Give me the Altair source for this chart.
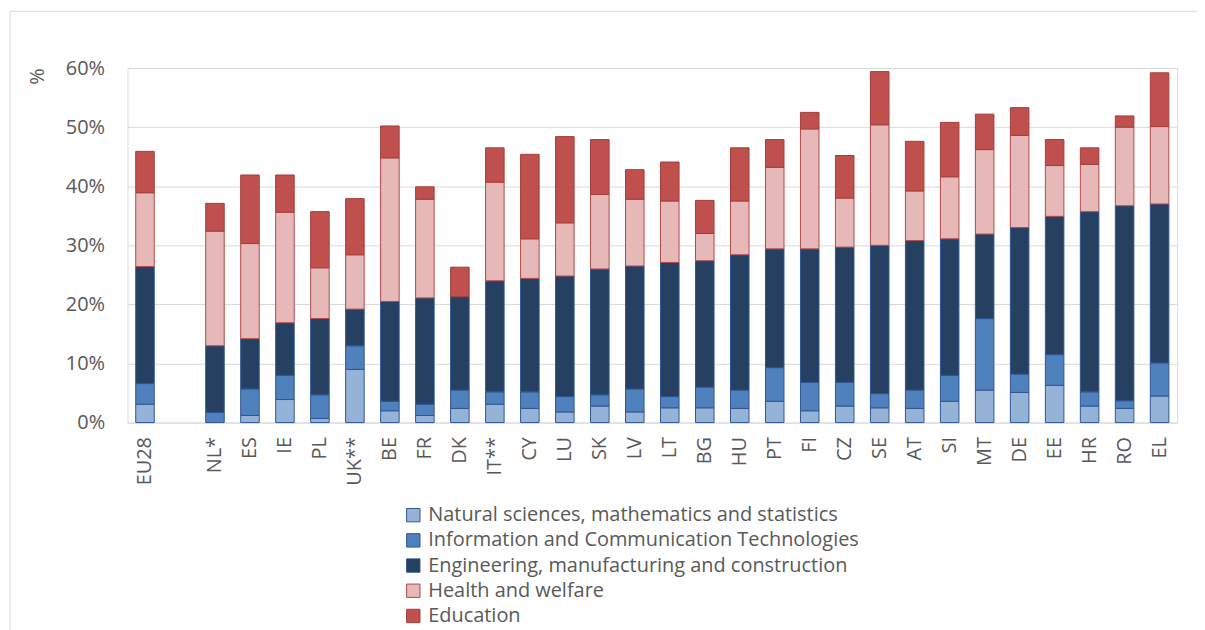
import altair as alt
import pandas as pd

countries = ["EU28", "NL*", "ES", "IE", "PL", "UK**", "BE", "FR", "DK", "IT**", "CY", "LU",
             "SK", "LV", "LT", "BG", "HU", "PT", "FI", "CZ", "SE", "AT", "SI", "MT", "DE",
             "EE", "HR", "RO", "EL"]
slots = ["EU28", " "] + countries[1:]

fields = ["Natural sciences, mathematics and statistics",
          "Information and Communication Technologies",
          "Engineering, manufacturing and construction",
          "Health and welfare",
          "Education"]

natural = [3.1, 0.0, 1.2, 3.9, 0.7, 9.0, 2.0, 1.2, 2.4, 3.1, 2.4, 1.8, 2.8, 1.8, 2.5, 2.5,
           2.4, 3.6, 2.0, 2.8, 2.5, 2.4, 3.6, 5.5, 5.1, 6.3, 2.8, 2.4, 4.5]
ict = [3.5, 1.7, 4.5, 4.1, 4.0, 4.0, 1.6, 1.9, 3.1, 2.1, 2.8, 2.6, 1.9, 3.9, 1.9, 3.5,
       3.1, 5.7, 4.8, 4.0, 2.4, 3.1, 4.4, 12.1, 3.1, 5.2, 2.4, 1.3, 5.6]
engineering = [19.8, 11.3, 8.5, 8.9, 12.9, 6.2, 16.9, 18.0, 15.8, 18.8, 19.2, 20.4, 21.3,
               20.8, 22.7, 21.4, 22.9, 20.1, 22.6, 22.9, 25.1, 25.3, 23.1, 14.3, 24.8, 23.4,
               30.5, 33.0, 26.9]
health = [12.5, 19.4, 16.1, 18.7, 8.6, 9.2, 24.3, 16.7, 0.0, 16.7, 6.7, 9.0, 12.6, 11.3,
          10.4, 4.6, 9.1, 13.8, 20.3, 8.3, 20.4, 8.4, 10.5, 14.3, 15.6, 8.6, 8.0, 13.3, 13.1]
education = [7.0, 4.7, 11.6, 6.3, 9.5, 9.5, 5.4, 2.1, 5.0, 5.8, 14.3, 14.6, 9.3, 5.0, 6.6,
             5.6, 9.0, 4.7, 2.8, 7.2, 9.0, 8.4, 9.2, 6.0, 4.7, 4.4, 2.8, 1.9, 9.1]

fills = ["#95B3D7", "#4F81BD", "#254061", "#E6B9B8", "#C0504D"]
strokes = ["#2F5597", "#2F5597", "#2F5597", "#B04A47", "#A33D3A"]

rows = []
for i, c in enumerate(countries):
    for k, series in enumerate([natural, ict, engineering, health, education]):
        if series[i] > 0:
            rows.append({"country": c, "field": fields[k], "idx": k, "value": series[i]})
df = pd.DataFrame(rows)

FONT = "Open Sans"
GREY = "#595959"

legend_props = dict(title=None, orient="none", legendX=277, legendY=439,
                    direction="vertical", symbolType="square",
                    symbolSize=180, labelFontSize=20, labelColor=GREY,
                    labelFont=FONT, rowPadding=5.3, labelOffset=5,
                    symbolStrokeWidth=1, labelLimit=700)

bars = alt.Chart(df).mark_bar(strokeWidth=1).encode(
    x=alt.X("country:N", sort=None,
            scale=alt.Scale(domain=slots, paddingInner=0.47, paddingOuter=0.235),
            axis=alt.Axis(title=None, labelAngle=270, labelFontSize=20, labelColor=GREY,
                          labelFont=FONT, labelPadding=14, ticks=False, domain=False,
                          grid=False)),
    y=alt.Y("value:Q", stack="zero", scale=alt.Scale(domain=[0, 60], nice=False),
            axis=alt.Axis(values=[0, 10, 20, 30, 40, 50, 60],
                          labelExpr="datum.value + '%'",
                          title="%", titleAngle=270, titleX=-90, titleY=8,
                          titleAlign="center", titleBaseline="middle",
                          titleFontSize=20, titleFontWeight="normal", titleColor=GREY,
                          titleFont=FONT,
                          labelFontSize=20, labelColor=GREY, labelFont=FONT,
                          labelPadding=23, grid=True, gridColor="#D9D9D9", gridWidth=1,
                          domain=False, ticks=False)),
    color=alt.Color("field:N",
                    scale=alt.Scale(domain=fields, range=fills),
                    legend=alt.Legend(**legend_props)),
    stroke=alt.Stroke("field:N",
                      scale=alt.Scale(domain=fields, range=strokes),
                      legend=alt.Legend(**legend_props)),
    order=alt.Order("idx:Q"),
)

frame = alt.Chart(alt.Data(values=[{"a": 1}])).mark_rect(
    fill="transparent", stroke="#D9D9D9", strokeWidth=1
).encode(x=alt.value(-118), x2=alt.value(1300), y=alt.value(-57), y2=alt.value(800))

chart = alt.layer(frame, bars).properties(
    width=1054, height=356,
    autosize=alt.AutoSizeParams(type="none"),
    padding={"left": 120, "top": 59, "right": 20, "bottom": 207},
).configure_view(stroke=None).configure(font=FONT)

chart.save("out.html", embed_options={"renderer": "svg", "actions": False})
